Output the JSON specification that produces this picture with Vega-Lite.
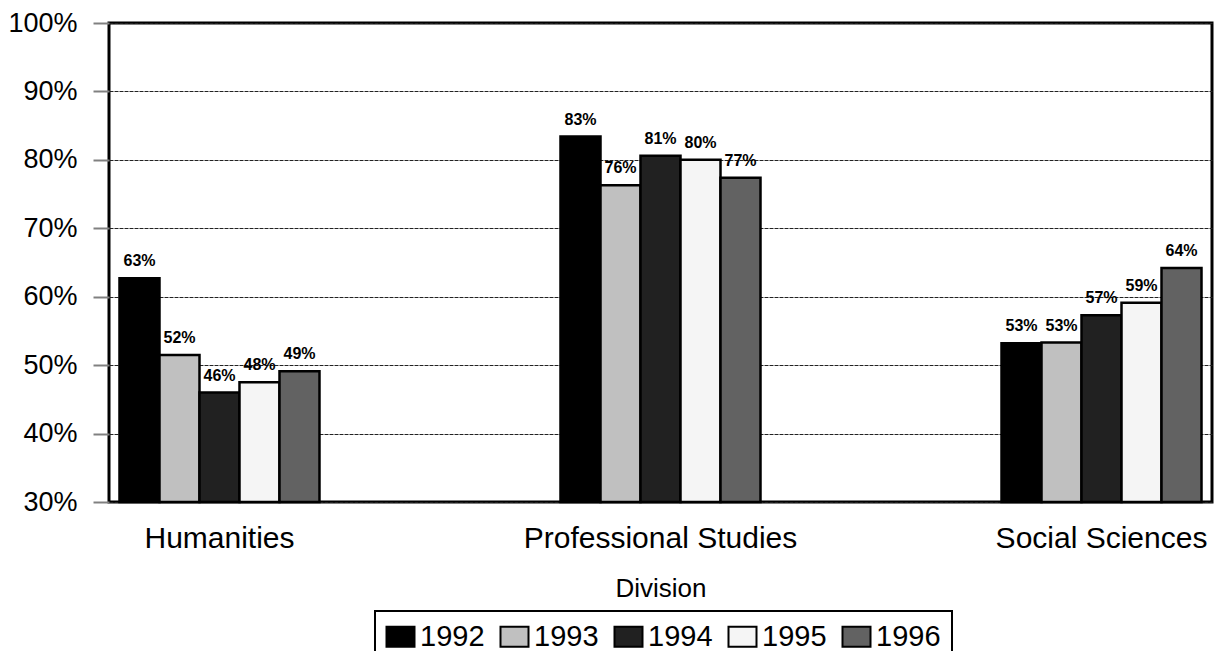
{
  "$schema": "https://vega.github.io/schema/vega-lite/v6.json",
  "autosize": {"type": "none"},
  "width": 1103,
  "height": 479,
  "padding": {"left": 109, "top": 23, "right": 4, "bottom": 149},
  "background": "white",
  "data": {
    "values": [
      {"division": "Humanities", "year": "1992", "value": 0.627},
      {"division": "Humanities", "year": "1993", "value": 0.515},
      {"division": "Humanities", "year": "1994", "value": 0.460},
      {"division": "Humanities", "year": "1995", "value": 0.475},
      {"division": "Humanities", "year": "1996", "value": 0.491},
      {"division": "Professional Studies", "year": "1992", "value": 0.834},
      {"division": "Professional Studies", "year": "1993", "value": 0.763},
      {"division": "Professional Studies", "year": "1994", "value": 0.806},
      {"division": "Professional Studies", "year": "1995", "value": 0.800},
      {"division": "Professional Studies", "year": "1996", "value": 0.774},
      {"division": "Social Sciences", "year": "1992", "value": 0.532},
      {"division": "Social Sciences", "year": "1993", "value": 0.533},
      {"division": "Social Sciences", "year": "1994", "value": 0.573},
      {"division": "Social Sciences", "year": "1995", "value": 0.591},
      {"division": "Social Sciences", "year": "1996", "value": 0.642}
    ]
  },
  "encoding": {
    "x": {
      "field": "division",
      "type": "nominal",
      "scale": {"paddingInner": 0.5465, "paddingOuter": 0.0238},
      "axis": {
        "title": "Division",
        "labelAngle": 0,
        "labelFontSize": 30,
        "labelFont": "Liberation Sans",
        "labelColor": "black",
        "labelPadding": 21,
        "labelLimit": 0,
        "ticks": false,
        "domain": false,
        "titleFont": "Liberation Sans",
        "titleFontSize": 26,
        "titleFontWeight": "normal",
        "titleColor": "black",
        "titlePadding": 22
      }
    },
    "xOffset": {"field": "year", "type": "nominal", "scale": {"paddingInner": 0, "paddingOuter": 0}},
    "y": {
      "field": "value",
      "type": "quantitative",
      "scale": {"domain": [0.3, 1], "zero": false, "nice": false},
      "axis": {
        "title": null,
        "values": [0.3, 0.4, 0.5, 0.6, 0.7, 0.8, 0.9, 1.0],
        "format": ".0%",
        "labelFontSize": 27,
        "labelFont": "Liberation Sans",
        "labelColor": "black",
        "labelPadding": 16,
        "tickSize": 16,
        "tickColor": "#808080",
        "tickWidth": 2,
        "domain": false,
        "grid": true,
        "gridColor": "#222222",
        "gridDash": [4, 1],
        "gridWidth": 1
      }
    }
  },
  "layer": [
    {
      "mark": {"type": "bar", "stroke": "black", "strokeWidth": 2.5},
      "encoding": {
        "y2": {"datum": 0.3},
        "color": {
          "field": "year",
          "type": "nominal",
          "scale": {
            "domain": ["1992", "1993", "1994", "1995", "1996"],
            "range": ["#000000", "#c0c0c0", "#212121", "#f5f5f5", "#626262"]
          },
          "legend": {
            "title": null,
            "orient": "none",
            "direction": "horizontal",
            "legendX": 266,
            "legendY": 588,
            "strokeColor": "black",
            "padding": 11,
            "symbolType": "M-1.4,-1L1.4,-1L1.4,1L-1.4,1Z",
            "symbolSize": 400,
            "symbolStrokeColor": "black",
            "symbolStrokeWidth": 2,
            "symbolOpacity": 1,
            "labelFont": "Liberation Sans",
            "labelFontSize": 29,
            "labelColor": "black",
            "labelOffset": 5,
            "columnPadding": 11
          }
        }
      }
    },
    {
      "mark": {"type": "text", "fontWeight": "bold", "fontSize": 16, "font": "Liberation Sans", "baseline": "alphabetic", "dy": -12, "color": "black"},
      "encoding": {
        "text": {"field": "value", "type": "quantitative", "format": ".0%"}
      }
    }
  ],
  "config": {
    "view": {"stroke": "black", "strokeWidth": 3},
    "legend": {"strokeWidth": 2}
  }
}
